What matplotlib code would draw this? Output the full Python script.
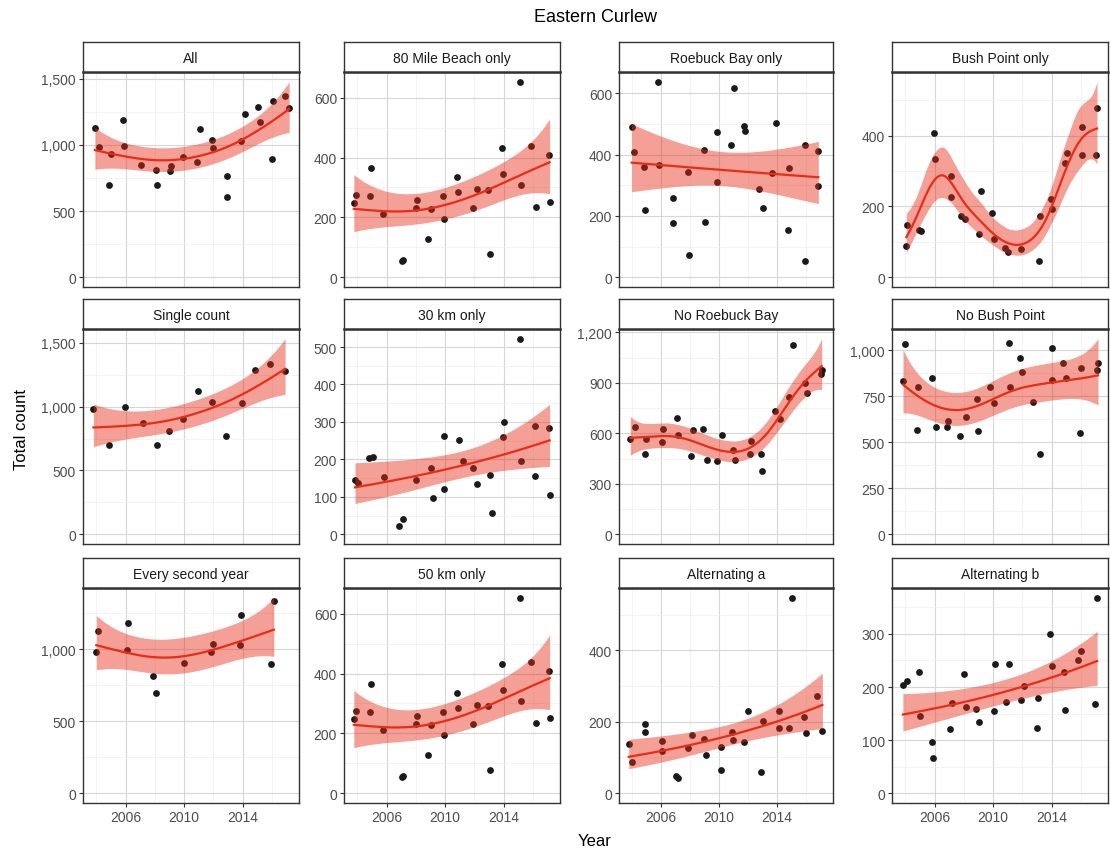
import numpy as np
import matplotlib
matplotlib.use('Agg')
import matplotlib.pyplot as plt
from matplotlib.ticker import FuncFormatter

matplotlib.rcParams['font.family'] = ['Liberation Sans', 'DejaVu Sans']

# survey counts per panel (decimal year, birds counted)
all_yr = [2003.9, 2004.17, 2004.87, 2004.98, 2005.84, 2005.86, 2007.06, 2008.08, 2008.12, 2009.05, 2009.1,
          2009.93, 2010.9, 2011.08, 2011.92, 2011.95, 2012.94, 2012.96, 2013.89, 2014.18, 2015.08, 2015.2,
          2016.03, 2016.06, 2016.9, 2017.19]
all_n = [1130, 985, 700, 930, 1185, 993, 850, 812, 698, 805, 843, 910, 870, 1122, 1037, 977, 767, 607,
         1032, 1237, 1287, 1170, 895, 1332, 1372, 1277]

mile80_yr = [2003.76, 2003.94, 2004.95, 2004.85, 2005.77, 2007.03, 2007.1, 2008.1, 2008.03, 2008.81, 2009.02,
             2009.89, 2009.95, 2010.85, 2010.88, 2011.9, 2012.17, 2012.95, 2013.06, 2013.89, 2013.98, 2015.12,
             2015.19, 2015.87, 2016.22, 2017.1, 2017.15]
mile80_n = [249, 276, 365, 272, 210, 55, 57, 259, 232, 128, 228, 272, 195, 336, 286, 232, 296, 291, 78,
            432, 346, 653, 307, 440, 236, 410, 252]

roebuck_yr = [2003.96, 2004.12, 2004.78, 2004.85, 2005.78, 2005.85, 2006.83, 2006.85, 2007.83, 2007.94,
              2008.96, 2009.01, 2009.85, 2009.87, 2010.83, 2011.01, 2011.72, 2011.78, 2012.72, 2013.05,
              2013.65, 2013.94, 2014.83, 2014.76, 2015.94, 2015.96, 2016.83, 2016.85]
roebuck_n = [490, 409, 360, 221, 638, 365, 258, 178, 345, 73, 415, 180, 473, 312, 430, 618, 495, 478,
             288, 226, 339, 502, 356, 154, 431, 52, 411, 298]

bush_yr = [2004.07, 2004.11, 2004.95, 2005.07, 2005.93, 2006.05, 2007.11, 2007.13, 2007.82, 2008.11, 2009.07,
           2009.18, 2009.91, 2010.09, 2010.82, 2011.0, 2011.93, 2013.11, 2013.2, 2013.98, 2014.05, 2014.89,
           2015.05, 2016.05, 2016.07, 2017.07, 2017.11]
bush_n = [89, 149, 134, 131, 408, 333, 286, 228, 172, 164, 121, 244, 183, 108, 84, 70, 79, 46, 172, 221,
          192, 324, 352, 425, 346, 346, 478]

single_yr = [2003.8, 2004.86, 2005.93, 2007.18, 2008.16, 2008.98, 2009.91, 2010.93, 2011.93, 2012.89,
             2013.93, 2014.86, 2015.89, 2016.91]
single_n = [983, 703, 996, 874, 698, 807, 900, 1120, 1040, 768, 1027, 1285, 1332, 1280]

km30_yr = [2003.84, 2004.04, 2004.79, 2005.09, 2005.82, 2006.84, 2007.12, 2008.03, 2009.03, 2009.17,
           2009.92, 2009.95, 2010.95, 2011.22, 2011.92, 2012.2, 2013.1, 2013.19, 2013.95, 2014.06, 2015.1,
           2015.2, 2016.13, 2016.15, 2017.1, 2017.15]
km30_n = [144, 137, 204, 207, 153, 21, 41, 146, 177, 96, 263, 121, 251, 195, 177, 133, 158, 57, 259, 299,
          522, 196, 289, 155, 285, 105]

noroe_yr = [2003.87, 2004.16, 2004.88, 2004.92, 2006.07, 2006.16, 2007.12, 2007.17, 2008.04, 2008.17,
            2008.87, 2009.18, 2009.88, 2010.19, 2010.98, 2011.11, 2012.17, 2012.12, 2012.88, 2012.99,
            2013.89, 2014.18, 2014.83, 2015.1, 2015.93, 2016.04, 2017.05, 2017.08]
noroe_n = [565, 635, 480, 565, 546, 625, 689, 590, 464, 621, 625, 443, 433, 588, 503, 439, 557, 478, 480,
           379, 732, 686, 814, 1124, 899, 839, 955, 979]

nobush_yr = [2003.84, 2004.0, 2004.8, 2004.84, 2005.8, 2006.09, 2006.84, 2006.93, 2007.75, 2008.14, 2008.93,
             2008.95, 2009.82, 2010.05, 2011.11, 2011.14, 2011.82, 2011.95, 2012.75, 2013.18, 2014.0, 2014.02,
             2014.77, 2015.0, 2016.0, 2015.98, 2017.11, 2017.18]
nobush_n = [833, 1037, 567, 803, 851, 583, 581, 618, 533, 638, 737, 561, 801, 714, 1039, 801, 961, 883,
            721, 437, 1014, 838, 934, 849, 904, 549, 895, 932]

second_yr = [2004.0, 2004.11, 2006.14, 2006.11, 2007.86, 2008.07, 2009.98, 2011.86, 2011.95, 2013.89,
             2013.86, 2015.98, 2016.14]
second_n = [984, 1129, 1186, 996, 814, 694, 903, 980, 1039, 1238, 1027, 898, 1334]

km50_yr = list(mile80_yr)
km50_n = list(mile80_n)

alta_yr = [2003.76, 2004.0, 2004.89, 2004.91, 2006.09, 2006.05, 2007.04, 2007.13, 2007.86, 2008.11, 2008.97,
           2009.06, 2010.11, 2010.14, 2010.92, 2010.94, 2011.74, 2011.99, 2012.89, 2013.03, 2014.1, 2014.12,
           2014.82, 2015.0, 2015.89, 2016.02, 2016.79, 2017.13]
alta_n = [137, 88, 171, 194, 146, 119, 47, 42, 127, 164, 151, 107, 130, 65, 171, 150, 142, 230, 59, 202,
          231, 182, 182, 547, 214, 169, 273, 173]

altb_yr = [2003.83, 2004.12, 2004.96, 2004.98, 2005.84, 2005.86, 2007.06, 2007.22, 2008.01, 2008.12, 2008.85,
           2009.03, 2010.09, 2010.16, 2010.88, 2011.06, 2011.92, 2012.1, 2012.98, 2013.05, 2013.91, 2014.02,
           2014.84, 2014.95, 2015.83, 2015.99, 2016.94, 2017.12]
altb_n = [204, 212, 228, 145, 96, 66, 121, 170, 224, 162, 158, 134, 154, 243, 171, 243, 175, 202, 122, 179,
          300, 239, 228, 157, 250, 268, 168, 368]

# (title, years, counts, smoother edf, y breaks)
panels = [
    ('All', all_yr, all_n, 3.0, [0, 500, 1000, 1500]),
    ('80 Mile Beach only', mile80_yr, mile80_n, 2.8, [0, 200, 400, 600]),
    ('Roebuck Bay only', roebuck_yr, roebuck_n, 2.0, [0, 200, 400, 600]),
    ('Bush Point only', bush_yr, bush_n, 6.5, [0, 200, 400]),
    ('Single count', single_yr, single_n, 2.7, [0, 500, 1000, 1500]),
    ('30 km only', km30_yr, km30_n, 2.0, [0, 100, 200, 300, 400, 500]),
    ('No Roebuck Bay', noroe_yr, noroe_n, 5.0, [0, 300, 600, 900, 1200]),
    ('No Bush Point', nobush_yr, nobush_n, 3.8, [0, 250, 500, 750, 1000]),
    ('Every second year', second_yr, second_n, 2.8, [0, 500, 1000]),
    ('50 km only', km50_yr, km50_n, 2.8, [0, 200, 400, 600]),
    ('Alternating a', alta_yr, alta_n, 2.0, [0, 200, 400]),
    ('Alternating b', altb_yr, altb_n, 2.1, [0, 100, 200, 300]),
]
year_breaks = [2006, 2010, 2014]
year_minor = [2004, 2008, 2012, 2016]

line_col = '#e92c16'
W, H = 1110, 854


def bsplines(x, xl, xr, nseg=10, deg=3):
    dx = (xr - xl) / nseg
    t = xl + dx * np.arange(-deg, nseg + deg + 1)
    B = np.column_stack([(x >= t[i]) & (x < t[i + 1]) for i in range(len(t) - 1)]).astype(float)
    for d in range(1, deg + 1):
        B = np.column_stack([
            (x - t[i]) / (t[i + d] - t[i]) * B[:, i] + (t[i + d + 1] - x) / (t[i + d + 1] - t[i + 1]) * B[:, i + 1]
            for i in range(B.shape[1] - 1)])
    return B


def pirls(X, y, P):
    beta = np.linalg.solve(X.T @ X + P * 1e-3, X.T @ np.log(y))
    for _ in range(60):
        eta = X @ beta
        mu = np.exp(eta)
        z = eta + (y - mu) / mu
        XtW = X.T * mu
        beta = np.linalg.solve(XtW @ X + P, XtW @ z)
    mu = np.exp(X @ beta)
    A = (X.T * mu) @ X
    Vi = np.linalg.inv(A + P)
    return beta, mu, Vi, np.trace(Vi @ A)


def smooth(x, y, edf, npts=200):
    # penalised spline, quasi-poisson log link, smoothness set through the edf
    x = np.asarray(x, float)
    y = np.asarray(y, float)
    xl, xr = x.min() - 0.01, x.max() + 0.01
    X = bsplines(x, xl, xr)
    D = np.diff(np.eye(X.shape[1]), 2, axis=0)
    S = D.T @ D * y.mean()
    lo_l, hi_l = -6.0, 10.0
    for _ in range(40):
        mid = (lo_l + hi_l) / 2
        if pirls(X, y, 10 ** mid * S)[3] > edf:
            lo_l = mid
        else:
            hi_l = mid
    beta, mu, Vi, df = pirls(X, y, 10 ** hi_l * S)
    phi = np.sum((y - mu) ** 2 / mu) / (len(y) - df)
    gx = np.linspace(x.min(), x.max(), npts)
    G = bsplines(gx, xl, xr)
    eta = G @ beta
    se = np.sqrt(phi * np.einsum('ij,jk,ik->i', G, Vi, G))
    return gx, np.exp(eta), np.exp(eta - 1.96 * se), np.exp(eta + 1.96 * se)


allx = np.concatenate([np.asarray(p[1]) for p in panels])
xr = allx.max() - allx.min()
xlim = (allx.min() - 0.05 * xr, allx.max() + 0.05 * xr)

col_left = [83, 344, 619, 892]
col_w = [216, 216, 214, 216]
row_top = [73, 330, 589]
ph, sh = 215, 30

fig = plt.figure(figsize=(W / 100, H / 100), dpi=100)

for i, (title, yr, n, edf, yb) in enumerate(panels):
    r, c = divmod(i, 4)
    l, t, w = col_left[c], row_top[r], col_w[c]
    ax = fig.add_axes([l / W, 1 - (t + ph) / H, w / W, ph / H])
    gx, fit, lo, hi = smooth(yr, n, edf)

    ax.scatter(yr, n, s=24, color='#1a1a1a', linewidths=0, zorder=2)
    ax.fill_between(gx, lo, hi, color=line_col, alpha=0.45, linewidth=0, zorder=3)
    ax.plot(gx, fit, color=line_col, lw=1.6, zorder=4)

    step = yb[1] - yb[0]
    ax.set_yticks(yb)
    ax.set_yticks([v + step / 2 for v in yb], minor=True)
    ax.set_xticks(year_breaks)
    ax.set_xticks(year_minor, minor=True)
    ymax = max(max(n), hi.max())
    ax.set_ylim(-0.05 * ymax, 1.05 * ymax)
    ax.set_xlim(*xlim)
    ax.yaxis.set_major_formatter(FuncFormatter(lambda v, p: f'{v:,.0f}'))
    ax.grid(which='major', color='#d6d6d6', lw=0.8, zorder=0)
    ax.grid(which='minor', color='#eeeeee', lw=0.5, zorder=0)
    ax.set_axisbelow(True)
    ax.tick_params(which='major', length=3, color='#333333', labelcolor='#4d4d4d', labelsize=10, pad=2)
    ax.tick_params(which='minor', length=0)
    if r < 2:
        ax.tick_params(axis='x', which='major', length=0, labelbottom=False)
    for s in ax.spines.values():
        s.set_color('#333333')
        s.set_linewidth(1.0)

    # facet strip
    sax = fig.add_axes([l / W, 1 - t / H, w / W, sh / H])
    sax.set_xticks([])
    sax.set_yticks([])
    sax.set_facecolor('white')
    for s in sax.spines.values():
        s.set_color('#333333')
        s.set_linewidth(1.0)
    sax.spines['bottom'].set_linewidth(1.8)
    sax.text(0.5, 0.48, title, ha='center', va='center', fontsize=10, color='#1a1a1a', transform=sax.transAxes)

fig.text(595 / W, 1 - 18 / H, 'Eastern Curlew', ha='center', va='center', fontsize=13)
fig.text(22 / W, 1 - 430 / H, 'Total count', ha='center', va='center', rotation=90, fontsize=12)
fig.text(595 / W, 1 - 842 / H, 'Year', ha='center', va='center', fontsize=12)

fig.savefig('out.png', dpi=100)
plt.close()
